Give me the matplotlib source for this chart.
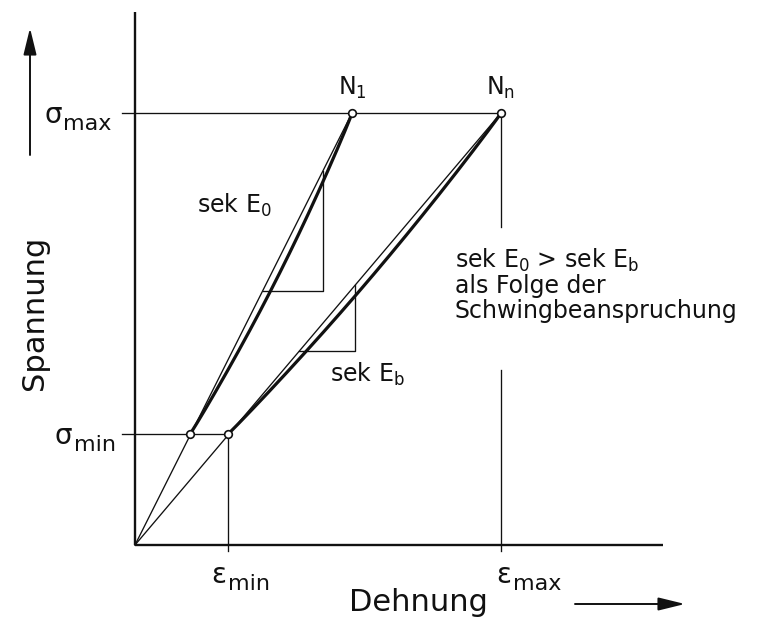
import numpy as np
import matplotlib.pyplot as plt

plt.rcParams['font.family'] = ['DejaVu Sans']
plt.rcParams['mathtext.fontset'] = 'dejavusans'

# Kennwerte (willkuerliche Einheiten)
sigma_max = 4.32
sigma_min = 1.11
eps_min = 0.93
eps_max = 3.66
eps_n1 = 2.17
eps_low = [0.55, eps_min]      # Dehnung bei sigma_min fuer N1 und Nn
eps_top = [eps_n1, eps_max]    # Dehnung bei sigma_max fuer N1 und Nn
point_labels = [r'N$_\mathrm{1}$', r'N$_\mathrm{n}$']

# Steigungsdreiecke: (Hoehe der Waagerechten, Lage der Senkrechten)
tri_E0 = (2.54, 1.88)
tri_Eb = (1.94, 2.20)

note_lines = [r'sek E$_\mathrm{0}$ > sek E$_\mathrm{b}$', 'als Folge der',
              'Schwingbeanspruchung']

ax_len_x = 5.28
ax_len_y = 5.33
bow = 0.075

k = '#111111'
thin = 0.95
thick = 2.3

fig = plt.figure(figsize=(7.6, 6.2), dpi=100)
ax = fig.add_axes([0, 0, 1, 1])
ax.set_xlim(-1.35, 6.25)
ax.set_ylim(-0.75, 5.45)
ax.axis('off')

# Achsen
ax.plot([0, 0], [0, ax_len_y], color=k, lw=1.7, solid_capstyle='butt')
ax.plot([0, ax_len_x], [0, 0], color=k, lw=1.7, solid_capstyle='butt')

# Hilfslinien fuer sigma und epsilon
ax.plot([-0.13, eps_max], [sigma_max, sigma_max], color=k, lw=thin)
ax.plot([-0.13, eps_min], [sigma_min, sigma_min], color=k, lw=thin)
ax.plot([eps_min, eps_min], [sigma_min, -0.06], color=k, lw=thin)
ax.plot([eps_max, eps_max], [sigma_max, 3.18], color=k, lw=thin)
ax.plot([eps_max, eps_max], [1.75, -0.06], color=k, lw=thin)

# Sekanten und Hystereseschleifen
t = np.linspace(0, 1, 200)
for e0, e1 in zip(eps_low, eps_top):
    ax.plot([0, e1], [0, sigma_max], color=k, lw=thin)
    dx, dy = e1 - e0, sigma_max - sigma_min
    n = np.array([dy, -dx]) / np.hypot(dx, dy)
    prof = bow * np.sin(np.pi * t) ** 0.8
    xs = e0 + t * dx + prof * n[0]
    ys = sigma_min + t * dy + prof * n[1]
    ax.plot(xs, ys, color=k, lw=thick, solid_capstyle='round')

# Steigungsdreiecke
for (h, v), e1 in zip([tri_E0, tri_Eb], eps_top):
    slope = sigma_max / e1
    x_left = h / slope
    y_top = v * slope
    ax.plot([x_left, v, v], [h, h, y_top], color=k, lw=thin)

# Punkte
ax.plot(eps_low, [sigma_min] * 2, 'o', ms=5.5, mfc='white', mec=k, mew=1.2, zorder=5)
ax.plot(eps_top, [sigma_max] * 2, 'o', ms=5.5, mfc='white', mec=k, mew=1.2, zorder=5)

fs = 17
for e1, lab in zip(eps_top, point_labels):
    ax.text(e1, sigma_max + 0.18, lab, fontsize=fs, ha='center', va='baseline', color=k)

# Achsbeschriftungen der Kennwerte
def sym(x, y, s, sub, dy=-0.07, dx=0.19):
    ax.text(x, y, s, fontsize=20, ha='left', va='baseline', color=k)
    ax.text(x + dx, y + dy, sub, fontsize=16, ha='left', va='baseline', color=k)

sym(-0.91, sigma_max - 0.10, 'σ', 'max')
sym(-0.80, sigma_min - 0.10, 'σ', 'min')
sym(eps_min - 0.17, -0.38, 'ε', 'min', dx=0.17)
sym(eps_max - 0.05, -0.38, 'ε', 'max', dx=0.17)

ax.text(-1.0, 2.32, 'Spannung', fontsize=22, rotation=90, ha='center', va='center', color=k)
ax.text(2.83, -0.66, 'Dehnung', fontsize=22, ha='center', va='baseline', color=k)

# Richtungspfeile
arrow = dict(arrowstyle='-|>,head_length=0.9,head_width=0.22', color=k, lw=1.4,
             shrinkA=0, shrinkB=0, mutation_scale=18)
ax.annotate('', xy=(-1.05, 5.17), xytext=(-1.05, 3.90), arrowprops=arrow)
ax.annotate('', xy=(5.50, -0.59), xytext=(4.40, -0.59), arrowprops=arrow)

# Beschriftung der Sekantenmoduln
ax.text(0.62, 3.32, r'sek E$_\mathrm{0}$', fontsize=fs, ha='left', va='baseline', color=k)
ax.text(1.95, 1.63, r'sek E$_\mathrm{b}$', fontsize=fs, ha='left', va='baseline', color=k)
for i, line in enumerate(note_lines):
    ax.text(3.20, 2.77 - 0.25 * i, line, fontsize=fs, ha='left', va='baseline', color=k)

fig.savefig('out.png', dpi=100, facecolor='white')
